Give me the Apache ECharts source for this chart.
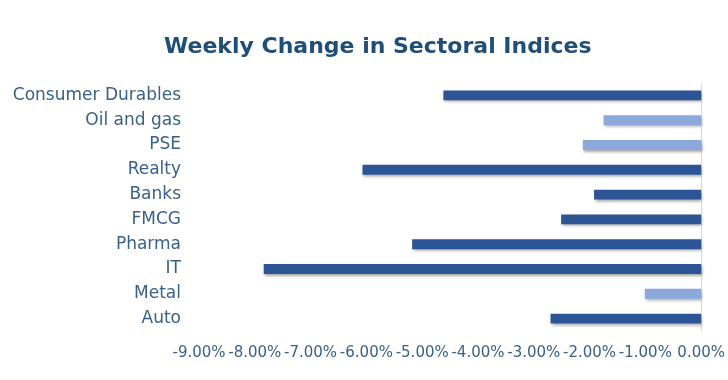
<!DOCTYPE html>
<html>
<head>
<meta charset="utf-8">
<script src="https://cdn.jsdelivr.net/npm/echarts@6/dist/echarts.min.js"></script>
<style>html,body{margin:0;padding:0;background:#fff;}#c{width:728px;height:380px;}</style>
</head>
<body>
<div id="c"></div>
<script>
// Categories listed bottom-to-top
var categories = ['Auto', 'Metal', 'IT', 'Pharma', 'FMCG', 'Banks', 'Realty', 'PSE', 'Oil and gas', 'Consumer Durables'];
var weeklyChange = [-2.70, -1.01, -7.84, -5.18, -2.51, -1.92, -6.07, -2.12, -1.75, -4.62];
var lightSectors = ['Metal', 'PSE', 'Oil and gas'];
var xTicks = [-9, -8, -7, -6, -5, -4, -3, -2, -1, 0];

var darkBlue = '#2C5596';
var lightBlue = '#8DA9DB';
var labelColor = '#3A6189';

var chart = echarts.init(document.getElementById('c'));
chart.setOption({
  animation: false,
  title: {
    text: 'Weekly Change in Sectoral Indices',
    left: 159,
    top: 31,
    textStyle: { color: '#1F4E79', fontSize: 22, fontWeight: 'bold', fontFamily: 'DejaVu Sans' }
  },
  grid: { left: 199, right: 24, top: 83, bottom: 49, containLabel: false },
  xAxis: {
    type: 'value',
    min: xTicks[0], max: xTicks[xTicks.length - 1], interval: 1,
    axisLine: { show: false },
    axisTick: { show: false },
    splitLine: { show: false },
    axisLabel: {
      margin: 15,
      color: labelColor,
      fontSize: 15,
      fontFamily: 'DejaVu Sans',
      formatter: function (v) { return v.toFixed(2) + '%'; }
    }
  },
  yAxis: [{
    type: 'category',
    data: categories,
    position: 'left',
    axisLine: { show: false, onZero: false },
    axisTick: { show: false },
    axisLabel: { margin: 18, color: labelColor, fontSize: 17, fontFamily: 'DejaVu Sans' }
  }, {
    type: 'category',
    data: categories,
    position: 'right',
    axisLine: { show: true, onZero: false, lineStyle: { color: '#D9D9D9', width: 1 } },
    axisTick: { show: false },
    axisLabel: { show: false }
  }],
  series: [{
    type: 'bar',
    yAxisIndex: 0,
    barCategoryGap: '60%',
    data: weeklyChange.map(function (v, i) {
      return {
        value: v,
        itemStyle: {
          color: lightSectors.indexOf(categories[i]) >= 0 ? lightBlue : darkBlue,
          shadowColor: 'rgba(0,0,0,0.35)',
          shadowBlur: 3,
          shadowOffsetX: 1,
          shadowOffsetY: 2
        }
      };
    })
  }]
});
</script>
</body>
</html>
